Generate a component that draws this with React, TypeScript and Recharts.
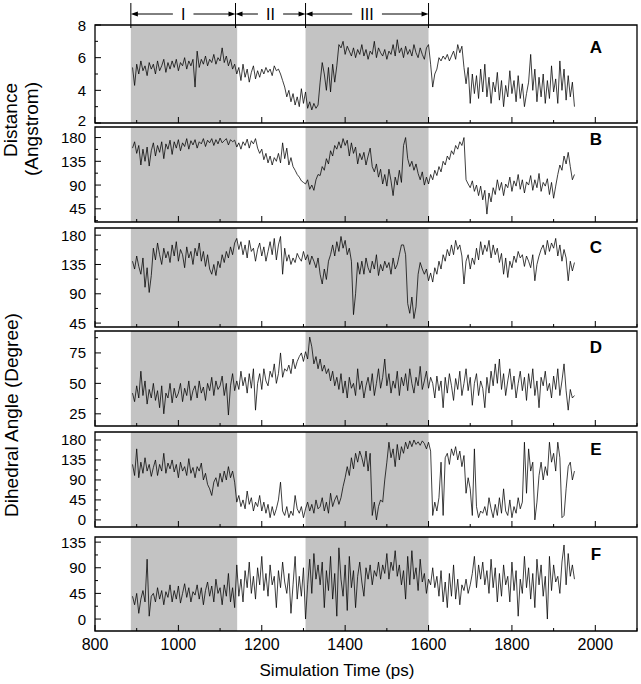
import React from 'react';
import { LineChart, Line, XAxis, YAxis, ReferenceArea } from 'recharts';

// sampling of the traces (ps)
const START = 890;
const STEP = 5;

// A: distance (Angstrom)
const distanceA = [
  5.4, 4.3, 5.6, 5.0, 5.8, 5.2, 5.5, 4.9, 5.7, 5.3,
  5.6, 5.0, 5.8, 5.2, 5.5, 5.9, 5.1, 5.7, 5.3, 5.8,
  5.4, 5.9, 5.2, 5.7, 5.5, 6.0, 5.3, 5.8, 5.5, 5.9,
  4.2, 6.4, 5.4, 5.9, 5.6, 6.1, 5.5, 5.9, 5.7, 6.2,
  5.6, 6.0, 5.8, 6.6, 5.7, 6.1, 5.5, 5.9, 5.3, 5.6,
  5.0, 5.4, 4.6, 5.6, 4.8, 5.3, 4.5, 5.1, 5.5, 4.7,
  5.2, 4.8, 5.3, 5.0, 5.4, 5.1, 5.3, 4.9, 5.5, 5.2,
  5.3, 5.0, 4.6, 4.2, 3.6, 4.0, 3.3, 3.8, 3.1, 3.6,
  3.0, 4.1, 3.2, 3.9, 2.9, 3.3, 2.8, 3.2, 2.9, 3.1,
  4.5, 5.7, 5.0, 4.0, 5.4, 3.9, 5.6, 4.5, 5.5, 6.8,
  6.6, 7.0, 6.2, 6.7, 6.4, 6.1, 6.6, 6.0, 6.5, 6.2,
  6.8, 6.1, 6.5, 5.9, 6.4, 6.2, 7.0, 6.0, 6.6, 6.3,
  6.1, 6.5, 5.9, 6.4, 6.2, 6.8, 6.1, 7.1, 6.3, 6.6,
  6.0, 6.7, 6.2, 6.5, 6.1, 6.8, 6.3, 6.0, 6.6, 6.2,
  5.9, 6.6, 6.8, 5.6, 4.2, 5.0, 5.3, 6.0, 5.8, 6.1,
  5.9, 6.2, 5.8, 6.1, 6.4, 5.9, 6.8, 6.3, 6.7, 5.4,
  4.4, 5.4, 3.2, 5.0, 3.8, 4.9, 3.5, 5.3, 3.9, 5.6,
  3.6, 4.8, 3.2, 4.5, 3.9, 5.1, 3.4, 4.6, 3.0, 4.3,
  3.6, 5.2, 3.8, 4.6, 3.3, 4.9, 3.5, 4.4, 3.0, 3.8,
  4.5, 6.2, 4.0, 5.3, 3.3, 4.8, 3.6, 5.0, 3.2, 4.6,
  3.5, 5.5, 3.9, 4.7, 3.2, 5.8, 4.0, 5.3, 3.4, 4.9,
  3.6, 4.5, 3.0,
];

// B..F: dihedral angles (degree)
const angleB = [
  160, 172, 150, 165, 128, 158, 135, 162, 126, 155,
  170, 145, 165, 152, 172, 140, 168, 158, 175, 148,
  172, 160, 176, 155, 170, 163, 178, 158, 174, 166,
  176, 160, 172, 168, 178, 163, 175, 170, 178, 165,
  176, 168, 179, 170, 174, 178, 166, 176, 172, 175,
  162, 170, 158, 172, 165, 177, 160, 174, 168, 178,
  160, 150, 158, 138, 150, 132, 145, 128, 142, 135,
  150, 132, 170, 140, 160, 128, 142, 125, 118, 110,
  105, 98, 95, 92, 100, 82, 90, 80, 100, 110,
  108, 125, 118, 140, 130, 155, 145, 165, 158, 172,
  160, 178, 165, 175, 145, 170, 150, 162, 130, 150,
  138, 152, 128, 145, 160, 125, 115, 130, 105, 120,
  92, 110, 88, 120, 98, 70, 105, 90, 118, 95,
  165, 180, 140, 125, 135, 118, 130, 112, 100, 115,
  90, 105, 92, 110, 100, 118, 108, 125, 115, 135,
  128, 145, 138, 155, 148, 165, 158, 172, 165, 180,
  100, 92, 85, 98, 78, 90, 70, 88, 62, 80,
  35, 75, 58, 85, 72, 100, 80, 95, 70, 92,
  85, 105, 78, 98, 88, 110, 82, 100, 75, 96,
  90, 108, 80, 100, 85, 112, 78, 95, 88, 102,
  72, 95, 65, 88, 110, 128, 118, 145, 130, 152,
  125, 100, 110,
];

const angleC = [
  140, 128, 148, 132, 120, 145, 100, 130, 92, 118,
  160, 142, 168, 150, 135, 160, 145, 155, 138, 165,
  148, 170, 140, 158, 150, 130, 162, 145, 155, 135,
  160, 148, 168, 140, 155, 132, 150, 128, 120, 135,
  118, 140, 130, 150, 138, 155, 145, 162, 150, 168,
  175, 158, 170, 150, 165, 145, 172, 155, 160, 140,
  158, 168, 148, 162, 140, 155, 170, 150, 175, 142,
  165, 178, 120, 160, 140, 150, 135, 145, 138, 152,
  145, 140, 155, 142, 150, 135, 148, 140, 130, 145,
  120, 105, 128, 112, 140, 150, 165, 148, 170, 155,
  178, 160, 172, 150, 160, 140, 58, 90, 138, 120,
  140, 120, 145, 130, 122, 140, 128, 150, 118, 135,
  125, 140, 130, 138, 120, 145, 128, 135, 150, 165,
  165, 150, 75, 60, 85, 52, 70, 120, 138, 128,
  120, 128, 110, 122, 108, 130, 120, 140, 128, 150,
  140, 158, 148, 165, 150, 172, 158, 165, 148, 105,
  140, 150, 128, 145, 135, 160, 142, 170, 150, 165,
  155, 172, 145, 165, 150, 160, 138, 152, 120, 145,
  115, 140, 130, 148, 138, 155, 145, 150, 132, 148,
  140, 130, 150, 110, 135, 148, 158, 165, 150, 172,
  155, 168, 160, 175, 148, 165, 140, 158, 145, 110,
  140, 125, 138,
];

const angleD = [
  42, 35, 48, 38, 60, 40, 52, 33, 45, 38,
  50, 36, 44, 30, 48, 25, 42, 38, 50, 34,
  46, 38, 42, 50, 35, 46, 40, 52, 36, 44,
  48, 38, 52, 42, 47, 36, 50, 44, 55, 40,
  52, 45, 48, 56, 40, 50, 24, 48, 58, 44,
  52, 45, 60, 48, 55, 42, 58, 46, 62, 28,
  50, 58, 45, 62, 52, 48, 60, 55, 66, 50,
  58, 75, 55, 62, 60, 65, 58, 70, 62, 68,
  72, 75, 68, 76, 70, 88, 80, 66, 72, 62,
  70, 60, 65, 58, 62, 52, 60, 48, 55, 45,
  58, 42, 52, 38, 55, 46, 50, 40, 62, 45,
  52, 38, 48, 55, 44, 58, 40, 50, 62, 46,
  55, 70, 48, 58, 42, 52, 46, 60, 40, 55,
  48, 58, 44, 62, 50, 42, 55, 48, 64, 45,
  52, 60, 46, 55, 50, 38, 56, 44, 52, 30,
  55, 42, 58, 48, 36, 54, 45, 60, 40, 50,
  62, 44, 55, 32, 50, 58, 40, 52, 46, 30,
  55, 42, 60, 48, 66, 50, 70, 45, 58, 40,
  52, 62, 45, 56, 38, 50, 60, 44, 55, 36,
  58, 46, 62, 40, 52, 30, 55, 48, 60, 44,
  50, 38, 56, 45, 62, 40, 52, 66, 44, 28,
  45, 38, 40,
];

const angleE = [
  125, 100, 160, 95, 130, 105, 140, 110, 125, 98,
  118, 135, 100, 125, 110, 150, 105, 128, 115, 135,
  108, 125, 95, 130, 110, 120, 100, 138, 105, 118,
  95, 120, 110, 128, 90, 105, 80, 70, 55, 85,
  95, 75, 105, 85, 110, 90, 120, 95, 110, 85,
  40, 55, 30, 45, 25, 65, 35, 50, 20, 40,
  30, 55, 20, 40, 15, 35, 5, 30, 10, 25,
  45, 85, 20, 10, 30, 5, 20, 10, 55, 25,
  15, 30, 5, 25, 40, 20, 35, 15, 45, 25,
  30, 50, 20, 40, 15, 60, 30, 45, 55, 35,
  50, 75, 95, 120, 100, 140, 115, 150, 130, 155,
  140, 120, 155, 110, 150, 10, 40, 0, 30, 45,
  40, 90, 130, 175, 140, 160, 120, 170, 135, 165,
  150, 175, 160, 178, 165, 180, 170, 176, 168, 178,
  172, 160, 175, 155, 10, 40, 20, 50, 130, 10,
  140, 150, 125, 160, 145, 165, 135, 155, 120, 145,
  60, 95, 70, 10, 160, 30, 5, 20, 15, 30,
  10, 50, 25, 5, 35, 10, 50, 15, 70, 20,
  10, 45, 5, 30, 15, 50, 25, 40, 175, 60,
  160, 110, 130, 0, 40, 100, 130, 90, 120, 100,
  175, 130, 150, 110, 175, 140, 5, 10, 70, 120,
  130, 90, 110,
];

const angleF = [
  40, 25, 45, 10, 35, 50, 30, 105, 5, 40,
  45, 30, 55, 35, 50, 25, 48, 38, 60, 30,
  50, 35, 58, 28, 45, 62, 38, 55, 30, 48,
  42, 60, 35, 55, 25, 50, 65, 40, 58, 30,
  70, 45, 55, 25, 60, 40, 80, 30, 55, 20,
  95, 40, 70, 30, 85, 55, 100, 45, 75, 35,
  90, 60, 110, 50, 80, 40, 95, 60, 75, 20,
  85, 55, 100, 65, 45, 80, 10, 60, 110, 35,
  75, 40, 90, 0, 60, 105, 45, 115, 70, 95,
  60, 100, 20, 85, 50, 110, 35, 80, 5, 125,
  70, 40, 95, 15, 110, 55, 85, 20, 75, 100,
  65, 40, 90, 70, 95, 60, 85, 75, 100, 70,
  95, 80, 115, 70, 100, 85, 120, 75, 95, 60,
  85, 35, 110, 60, 120, 70, 90, 50, 105, 65,
  80, 45, 70, 60, 90, 55, 75, 40, 85, 30,
  65, 20, 80, 40, 95, 35, 70, 25, 60, 50,
  70, 45, 60, 80, 110, 55, 95, 70, 100, 60,
  85, 45, 105, 55, 90, 30, 80, 40, 95, 60,
  75, 30, 100, 50, 85, 5, 70, 45, 110, 55,
  90, 35, 80, 20, 105, 60, 95, 40, 75, 0,
  110, 50, 95, 65, 75, 45, 100, 130, 60, 115,
  75, 95, 70,
];

const X_TICKS = [800, 900, 1000, 1100, 1200, 1300, 1400, 1500, 1600, 1700, 1800, 1900, 2000, 2100];
const X_LABELS = [800, 1000, 1200, 1400, 1600, 1800, 2000];

// shaded windows (ps)
const SHADED = [
  [886, 1141],
  [1305, 1600],
];
// bracketed regions on top
const REGION_NAMES = ['I', 'II', 'III'];
const REGION_BOUNDS = [886, 1137, 1305, 1600];

const X_MIN = 800;
const X_MAX = 2100;
const PLOT_LEFT = 95;
const PLOT_RIGHT = 637;
const W = 641;
const PAD = 10;

const panels = [
  { letter: 'A', data: distanceA, top: 25, height: 98, domain: [2, 8], ticks: [2, 3, 4, 5, 6, 7, 8], labels: [2, 4, 6, 8], letterY: 53, lowShift: -3 },
  { letter: 'B', data: angleB, top: 127, height: 95, domain: [20, 200], ticks: [22.5, 45, 67.5, 90, 112.5, 135, 157.5, 180], labels: [45, 90, 135, 180], letterY: 145, lowShift: 0 },
  { letter: 'C', data: angleC, top: 228, height: 99, domain: [39, 191], ticks: [45, 67.5, 90, 112.5, 135, 157.5, 180], labels: [45, 90, 135, 180], letterY: 253, lowShift: 0 },
  { letter: 'D', data: angleD, top: 331, height: 95, domain: [15, 93], ticks: [25, 37.5, 50, 62.5, 75, 87.5], labels: [25, 50, 75], letterY: 353, lowShift: 0 },
  { letter: 'E', data: angleE, top: 432, height: 95, domain: [-16, 198], ticks: [0, 22.5, 45, 67.5, 90, 112.5, 135, 157.5, 180], labels: [0, 45, 90, 135, 180], letterY: 455, lowShift: 0 },
  { letter: 'F', data: angleF, top: 537, height: 94, domain: [-21, 144], ticks: [0, 22.5, 45, 67.5, 90, 112.5, 135], labels: [0, 45, 90, 135], letterY: 560, lowShift: 0 },
];

const FONT = '"Liberation Sans", Arial, sans-serif';

const toPx = (v: number) => PLOT_LEFT + ((v - X_MIN) * (PLOT_RIGHT - PLOT_LEFT)) / (X_MAX - X_MIN);

const YTick = ({ x, y, payload, labels, lowShift }: any) => {
  const major = labels.includes(payload.value);
  // the lowest label of panel A sits right on the frame corner, nudge it up a bit
  const dy = payload.value === labels[0] ? lowShift : 0;
  return (
    <g>
      <line x1={x} x2={x + (major ? 6 : 3)} y1={y} y2={y} stroke="#000" strokeWidth={1} />
      {major && (
        <text x={x - 9} y={y + dy} textAnchor="end" dominantBaseline="central" fontSize={15} fontFamily={FONT} fill="#000">
          {payload.value}
        </text>
      )}
    </g>
  );
};

const XTick = ({ x, y, payload, showLabels }: any) => {
  const major = X_LABELS.includes(payload.value);
  return (
    <g>
      <line x1={x} x2={x} y1={y} y2={y - (major ? 6 : 3)} stroke="#000" strokeWidth={1} />
      {showLabels && major && (
        <text x={x} y={y + 19} textAnchor="middle" fontSize={16} fontFamily={FONT} fill="#000">
          {payload.value}
        </text>
      )}
    </g>
  );
};

const Panel = ({ p, last }: any) => {
  const rows = p.data.map((v: number, i: number) => ({ t: START + i * STEP, v }));
  const axisH = last ? 50 : 1;
  const bottomPad = last ? 0 : PAD;
  const h = PAD + p.height + axisH + bottomPad;
  return (
    <div style={{ position: 'absolute', left: 0, top: p.top - PAD, width: W, height: h }}>
      <LineChart width={W} height={h} data={rows} margin={{ top: PAD, right: W - PLOT_RIGHT, bottom: bottomPad, left: 0 }}>
        {SHADED.map(([a, b]) => (
          <ReferenceArea key={a} x1={a} x2={b} fill="#c3c3c3" fillOpacity={1} stroke="none" />
        ))}
        <XAxis
          dataKey="t"
          type="number"
          domain={[X_MIN, X_MAX]}
          ticks={X_TICKS}
          interval={0}
          allowDataOverflow
          height={axisH}
          axisLine={false}
          tickLine={false}
          tickSize={0}
          tickMargin={0}
          tick={(props: any) => <XTick {...props} showLabels={last} />}
        />
        <YAxis
          type="number"
          domain={p.domain}
          ticks={p.ticks}
          interval={0}
          allowDataOverflow
          width={PLOT_LEFT}
          axisLine={false}
          tickLine={false}
          tickSize={0}
          tickMargin={0}
          tick={(props: any) => <YTick {...props} labels={p.labels} lowShift={p.lowShift} />}
        />
        <Line type="linear" dataKey="v" stroke="#000" strokeWidth={0.75} dot={false} isAnimationActive={false} />
        <ReferenceArea x1={X_MIN} x2={X_MAX} y1={p.domain[0]} y2={p.domain[1]} fill="none" stroke="#000" strokeWidth={1.3} />
      </LineChart>
    </div>
  );
};

const Arrow = ({ from, to, y }: any) => {
  const dir = to > from ? 1 : -1;
  return (
    <g>
      <line x1={from} x2={to - dir * 5} y1={y} y2={y} stroke="#000" strokeWidth={1} />
      <polygon points={`${to},${y} ${to - dir * 7},${y - 2.5} ${to - dir * 7},${y + 2.5}`} fill="#000" />
    </g>
  );
};

const Overlay = () => (
  <svg width={W} height={684} style={{ position: 'absolute', left: 0, top: 0, pointerEvents: 'none' }} fontFamily={FONT}>
    {REGION_BOUNDS.map((b) => (
      <line key={b} x1={toPx(b)} x2={toPx(b)} y1={3} y2={28} stroke="#000" strokeWidth={1} />
    ))}
    {REGION_NAMES.map((name, i) => {
      const l = toPx(REGION_BOUNDS[i]);
      const r = toPx(REGION_BOUNDS[i + 1]);
      const c = (l + r) / 2;
      const gap = name.length * 2.3 + 8;
      return (
        <g key={name}>
          <Arrow from={c - gap} to={l} y={14} />
          <Arrow from={c + gap} to={r} y={14} />
          <text x={c} y={19.5} textAnchor="middle" fontSize={16} fill="#000">{name}</text>
        </g>
      );
    })}
    {panels.map((p) => (
      <text key={p.letter} x={596} y={p.letterY} textAnchor="middle" fontSize={17} fontWeight="bold" fill="#000">
        {p.letter}
      </text>
    ))}
    <text transform="translate(17,120) rotate(-90)" textAnchor="middle" fontSize={19} fill="#000">Distance</text>
    <text transform="translate(38,129) rotate(-90)" textAnchor="middle" fontSize={19} fill="#000">(Angstrom)</text>
    <text transform="translate(18,415) rotate(-90)" textAnchor="middle" fontSize={19} fill="#000">Dihedral Angle (Degree)</text>
    <text x={337} y={676} textAnchor="middle" fontSize={17} fill="#000">Simulation Time (ps)</text>
  </svg>
);

export default function App() {
  return (
    <div style={{ position: 'absolute', left: 0, top: 0, width: W, height: 684, background: '#fff', fontFamily: FONT }}>
      {panels.map((p, i) => (
        <Panel key={p.letter} p={p} last={i === panels.length - 1} />
      ))}
      <Overlay />
    </div>
  );
}
